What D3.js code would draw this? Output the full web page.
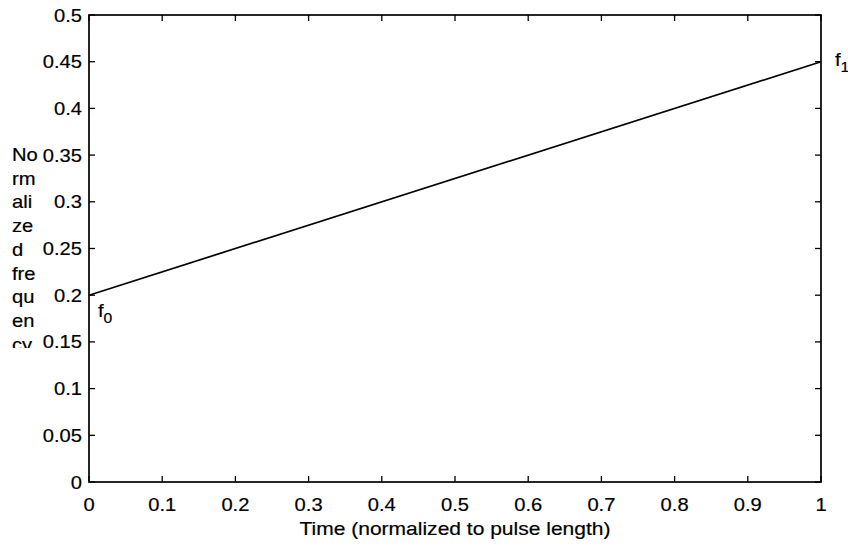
<!DOCTYPE html>
<html><head><meta charset="utf-8">
<script src="https://cdn.jsdelivr.net/npm/d3@7"></script>
<style>body{margin:0;background:#fff}svg text{font-family:"Liberation Sans",Arial,sans-serif;fill:#000;stroke:#000;stroke-width:0.2px}</style>
</head><body>
<svg id="c" width="848" height="547"></svg>
<script>
const timeVals = [0, 1];
const freqVals = [0.2, 0.45];
const xTicks = [0,0.1,0.2,0.3,0.4,0.5,0.6,0.7,0.8,0.9,1];
const yTicks = [0,0.05,0.1,0.15,0.2,0.25,0.3,0.35,0.4,0.45,0.5];
const xTitle = "Time (normalized to pulse length)";
const yTitleChunks = ["No","rm","ali","ze","d","fre","qu","en","cy"];

const svg = d3.select("#c");
const L=89, R=821, T=15, B=482;
const x = d3.scaleLinear().domain([0,1]).range([L,R]);
const y = d3.scaleLinear().domain([0,0.5]).range([B,T]);
const fs = 18, tl = 6, sx = 1.12;
const fmt = d => String(+d.toFixed(2));

function txt(parent, px, py, s, anchor, size){
  return parent.append("text")
    .attr("transform",`translate(${px},${py}) scale(${sx},1)`)
    .attr("text-anchor",anchor||"start").attr("font-size",size||fs).text(s);
}

// ticks all sides, inward
const g = svg.append("g").attr("stroke","#000").attr("stroke-width",1.3);
xTicks.forEach(t=>{
  g.append("line").attr("x1",x(t)).attr("x2",x(t)).attr("y1",B).attr("y2",B-tl);
  g.append("line").attr("x1",x(t)).attr("x2",x(t)).attr("y1",T).attr("y2",T+tl);
});
yTicks.forEach(t=>{
  g.append("line").attr("y1",y(t)).attr("y2",y(t)).attr("x1",L).attr("x2",L+tl);
  g.append("line").attr("y1",y(t)).attr("y2",y(t)).attr("x1",R).attr("x2",R-tl);
});
svg.append("rect").attr("x",L).attr("y",T).attr("width",R-L).attr("height",B-T)
  .attr("fill","none").attr("stroke","#000").attr("stroke-width",1.7);

// tick labels
const xl = svg.append("g");
xTicks.forEach(t=>txt(xl, x(t), B+29, fmt(t), "middle"));
const yl = svg.append("g");
yTicks.forEach(t=>txt(yl, L-7, y(t)+6.5, fmt(t), "end"));

// line
svg.append("path").datum(timeVals.map((t,i)=>[t,freqVals[i]]))
  .attr("d",d3.line().x(d=>x(d[0])).y(d=>y(d[1])))
  .attr("fill","none").attr("stroke","#000").attr("stroke-width",1.7);

// f0, f1 labels
const f0 = txt(svg, x(0)+9, y(freqVals[0])+22, "f");
f0.append("tspan").attr("dy",6).attr("font-size",14).text("0");
const f1 = txt(svg, R+14, y(freqVals[1])+4, "f");
f1.append("tspan").attr("dy",6).attr("font-size",14).text("1");

// x title
svg.append("text").attr("x",(L+R)/2).attr("y",535).attr("text-anchor","middle")
  .attr("font-size",19).attr("textLength",311).attr("lengthAdjust","spacingAndGlyphs").text(xTitle);

// y title chunks, clipped
svg.append("clipPath").attr("id","yc").append("rect").attr("x",0).attr("y",140).attr("width",60).attr("height",208);
const yt = svg.append("g").attr("clip-path","url(#yc)");
yTitleChunks.forEach((c,i)=>txt(yt, 12, 161+i*23.7, c, "start"));
</script>
</body></html>
